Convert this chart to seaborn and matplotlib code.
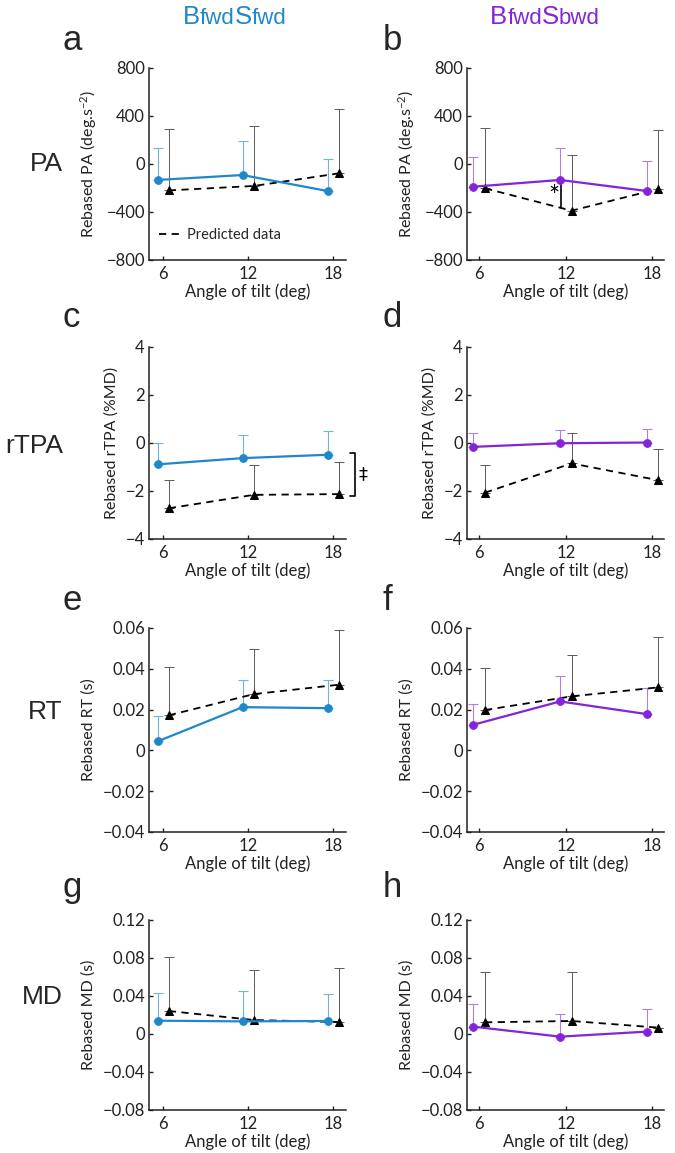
# Rebased kinematics vs angle of tilt, observed vs predicted

import numpy as np
import matplotlib
matplotlib.use("Agg")
import matplotlib.pyplot as plt
import seaborn as sns

# Data
angles = [6, 12, 18]
conditions = ["BfwdSfwd", "BfwdSbwd"]
measures = ["PA", "rTPA", "RT", "MD"]
panel_letters = ["a", "b", "c", "d", "e", "f", "g", "h"]

# PA
pa_obs_fwd = [-133, -92, -225]
pa_obs_fwd_err = [264, 284, 267]
pa_pred_fwd = [-220, -183, -78]
pa_pred_fwd_err = [509, 500, 534]
pa_obs_bwd = [-189, -133, -225]
pa_obs_bwd_err = [247, 264, 247]
pa_pred_bwd = [-203, -389, -208]
pa_pred_bwd_err = [500, 461, 489]

# rTPA
rtpa_obs_fwd = [-0.89, -0.63, -0.49]
rtpa_obs_fwd_err = [0.87, 0.98, 0.98]
rtpa_pred_fwd = [-2.72, -2.16, -2.13]
rtpa_pred_fwd_err = [1.16, 1.25, 1.32]
rtpa_obs_bwd = [-0.16, -0.01, 0.02]
rtpa_obs_bwd_err = [0.56, 0.54, 0.58]
rtpa_pred_bwd = [-2.07, -0.85, -1.55]
rtpa_pred_bwd_err = [1.15, 1.25, 1.32]

# RT
rt_obs_fwd = [0.0044, 0.0212, 0.0207]
rt_obs_fwd_err = [0.0124, 0.0133, 0.0138]
rt_pred_fwd = [0.0172, 0.0276, 0.0322]
rt_pred_fwd_err = [0.0238, 0.0219, 0.0266]
rt_obs_bwd = [0.0126, 0.0240, 0.0178]
rt_obs_bwd_err = [0.0101, 0.0123, 0.0126]
rt_pred_bwd = [0.0198, 0.0265, 0.0309]
rt_pred_bwd_err = [0.0206, 0.0202, 0.0247]

# MD
md_obs_fwd = [0.0140, 0.0133, 0.0137]
md_obs_fwd_err = [0.0295, 0.0317, 0.0281]
md_pred_fwd = [0.0242, 0.0147, 0.0126]
md_pred_fwd_err = [0.0572, 0.0523, 0.0564]
md_obs_bwd = [0.0077, -0.0028, 0.0025]
md_obs_bwd_err = [0.0243, 0.0235, 0.0235]
md_pred_bwd = [0.0123, 0.0137, 0.0067]
md_pred_bwd_err = [0.0527, 0.0513, 0.0]

ylabels = ["Rebased PA (deg.s$^{-2}$)", "Rebased rTPA (%MD)",
           "Rebased RT (s)", "Rebased MD (s)"]
yticks = [[-800, -400, 0, 400, 800],
          [-4, -2, 0, 2, 4],
          [-0.04, -0.02, 0, 0.02, 0.04, 0.06],
          [-0.08, -0.04, 0, 0.04, 0.08, 0.12]]

# Style
sns.set_style("ticks")
plt.rcParams["font.family"] = ["Lato", "DejaVu Sans"]
plt.rcParams["mathtext.fontset"] = "custom"
plt.rcParams["mathtext.rm"] = "Lato"
plt.rcParams["mathtext.default"] = "regular"

blue = "#1f88c8"
blue_light = "#72b3de"
purple = "#8424d8"
purple_light = "#b27de6"
grey = "#5a5a5a"
ink = "#222222"

W, H = 675, 1153
fig = plt.figure(figsize=(W / 100, H / 100), dpi=100)

cols_px = [(149, 346), (467, 664)]
rows_px = [(68, 260), (347, 539), (628, 832), (920, 1110)]
xlims = [(5.0, 18.9), (5.15, 18.8)]
off = 0.4

series = [
    [(pa_obs_fwd, pa_obs_fwd_err, pa_pred_fwd, pa_pred_fwd_err),
     (pa_obs_bwd, pa_obs_bwd_err, pa_pred_bwd, pa_pred_bwd_err)],
    [(rtpa_obs_fwd, rtpa_obs_fwd_err, rtpa_pred_fwd, rtpa_pred_fwd_err),
     (rtpa_obs_bwd, rtpa_obs_bwd_err, rtpa_pred_bwd, rtpa_pred_bwd_err)],
    [(rt_obs_fwd, rt_obs_fwd_err, rt_pred_fwd, rt_pred_fwd_err),
     (rt_obs_bwd, rt_obs_bwd_err, rt_pred_bwd, rt_pred_bwd_err)],
    [(md_obs_fwd, md_obs_fwd_err, md_pred_fwd, md_pred_fwd_err),
     (md_obs_bwd, md_obs_bwd_err, md_pred_bwd, md_pred_bwd_err)],
]


def fmt(v, pos=None):
    s = "%g" % round(v, 4)
    return s.replace("-", "\u2212")


axes = {}
for r in range(4):
    for c in range(2):
        x0, x1 = cols_px[c]
        y0, y1 = rows_px[r]
        ax = fig.add_axes([x0 / W, 1 - y1 / H, (x1 - x0) / W, (y1 - y0) / H])
        axes[(r, c)] = ax
        obs, obs_err, pred, pred_err = series[r][c]
        col = blue if c == 0 else purple
        col_l = blue_light if c == 0 else purple_light
        x_obs = np.array(angles) - off
        x_pred = np.array(angles) + off

        ax.errorbar(x_pred, pred, yerr=[np.zeros(3), pred_err], fmt="none",
                    ecolor=grey, elinewidth=0.7, capsize=3.5, capthick=0.7, zorder=1)
        ax.errorbar(x_obs, obs, yerr=[np.zeros(3), obs_err], fmt="none",
                    ecolor=col_l, elinewidth=0.8, capsize=3.5, capthick=0.8, zorder=1)
        sns.lineplot(x=x_pred, y=pred, ax=ax, color="black", linestyle=(0, (4, 3)),
                     linewidth=1.3, marker="^", markersize=6, markeredgecolor="black",
                     label="Predicted data" if (r == 0 and c == 0) else None, zorder=3)
        sns.lineplot(x=x_obs, y=obs, ax=ax, color=col, linewidth=1.6, marker="o",
                     markersize=5.5, markeredgecolor=col, zorder=4)

        ax.set_xlim(*xlims[c])
        ax.set_xticks(angles)
        ax.set_ylim(yticks[r][0], yticks[r][-1])
        ax.set_yticks(yticks[r])
        ax.yaxis.set_major_formatter(plt.FuncFormatter(fmt))
        ax.set_xlabel("Angle of tilt (deg)", fontsize=12, color=ink, labelpad=1)
        ax.set_ylabel(ylabels[r], fontsize=11.5, color=ink, labelpad=5)
        ax.tick_params(direction="in", length=3, width=1, labelsize=12,
                       colors=ink, pad=3)
        ax.tick_params(axis="x", pad=4)
        for s in ["top", "right"]:
            ax.spines[s].set_visible(False)
        for s in ["left", "bottom"]:
            ax.spines[s].set_linewidth(1.1)
            ax.spines[s].set_color(ink)
        if ax.get_legend() is not None:
            ax.get_legend().remove()

# legend in panel a
ax = axes[(0, 0)]
h, l = ax.get_legend_handles_labels()
leg = ax.legend(h[:1], l[:1], loc="lower left", frameon=False, fontsize=10.5,
                handlelength=1.5, handletextpad=0.4, borderaxespad=0.3,
                bbox_to_anchor=(0.0, 0.04))
for lh in leg.legend_handles:
    lh.set_marker("")

# significance in panel b
ax = axes[(0, 1)]
ax.plot([11.66, 11.66], [-175, -356], color="black", linewidth=1.2)
ax.text(11.15, -280, "*", fontsize=19, ha="center", va="center", color="black")

# bracket in panel c
ax = axes[(1, 0)]
ax.plot([19.15, 19.5, 19.5, 19.15], [-0.41, -0.41, -2.2, -2.2], color="black",
        linewidth=1.2, clip_on=False)
ax.text(20.1, -1.3, "\u2021", fontsize=13, ha="center", va="center", color="black",
        family=["DejaVu Sans"])

# panel letters
letter_x = [63, 383]
letter_y = [50, 327, 610, 897]
for r in range(4):
    for c in range(2):
        fig.text(letter_x[c] / W, 1 - letter_y[r] / H, panel_letters[2 * r + c],
                 fontsize=25, ha="left", va="baseline", family=["Liberation Sans"])

# row labels
row_y = [171, 453, 719, 1004]
for r, name in enumerate(measures):
    fig.text(63 / W, 1 - row_y[r] / H, name, fontsize=19, ha="right",
             va="baseline", family=["Liberation Sans"])

# column headers: big B/S, small fwd/bwd on one baseline
renderer = fig.canvas.get_renderer()
head_x = [183, 490]
head_cols = [blue, purple]
for c, name in enumerate(conditions):
    parts = [name[0], name[1:4], name[4], name[5:]]
    sizes = [18.5, 16, 18.5, 16]
    x = head_x[c]
    for p, sz in zip(parts, sizes):
        t = fig.text(x / W, 1 - 24 / H, p, fontsize=sz, color=head_cols[c],
                     ha="left", va="baseline", family=["Liberation Sans"])
        x += t.get_window_extent(renderer).width

fig.savefig("out.png", dpi=100)
